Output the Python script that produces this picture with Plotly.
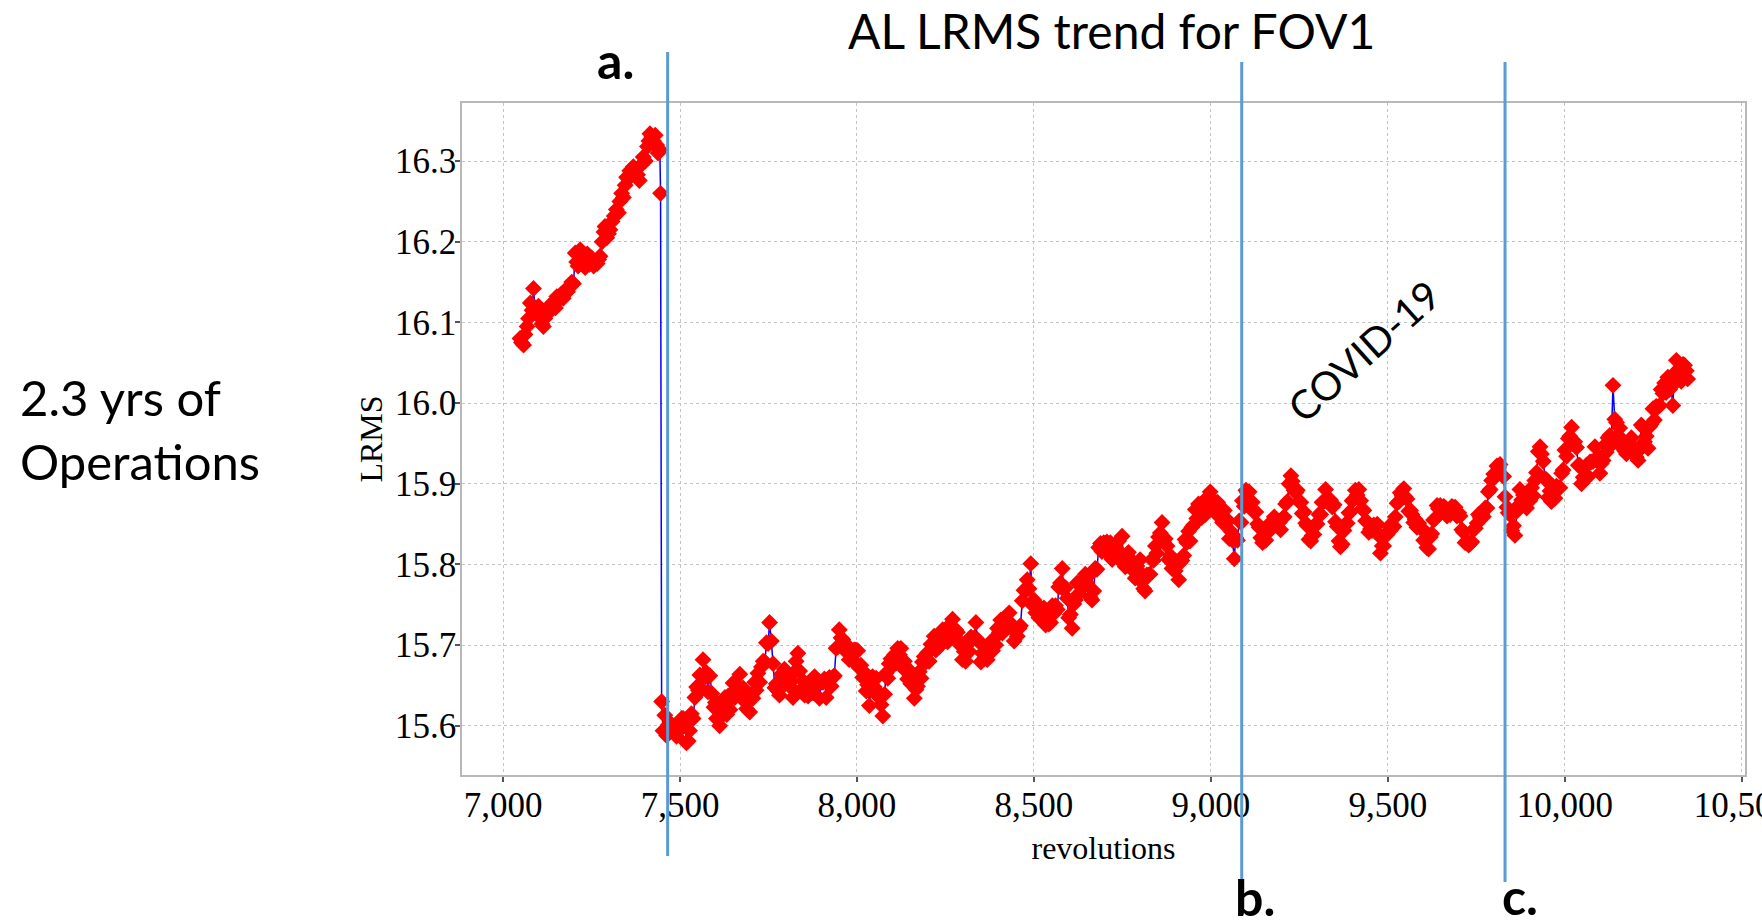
import plotly.graph_objects as go

# ---------------- data ----------------
rev_before = [
    7048, 7052, 7058, 7062, 7068, 7072, 7077, 7082, 7086, 7090,
    7095, 7100, 7105, 7110, 7114, 7118, 7124, 7130, 7136, 7142,
    7148, 7152, 7158, 7164, 7170, 7176, 7182, 7188, 7194, 7199,
    7204, 7208, 7212, 7218, 7222, 7227, 7232, 7238, 7244, 7250,
    7256, 7262, 7266, 7270, 7274, 7280, 7285, 7288, 7293, 7298,
    7302, 7308, 7314, 7320, 7326, 7330, 7335, 7340, 7345, 7349,
    7354, 7358, 7364, 7368, 7374, 7380, 7385, 7390, 7396, 7402,
    7408, 7412, 7415, 7420, 7425, 7430, 7434, 7438, 7443, 7445]
lrms_before = [
    16.080, 16.075, 16.072, 16.085, 16.095, 16.105, 16.124, 16.115, 16.142, 16.118,
    16.110, 16.120, 16.108, 16.098, 16.095, 16.105, 16.112, 16.120, 16.115, 16.125,
    16.118, 16.132, 16.128, 16.135, 16.130, 16.140, 16.138, 16.145, 16.150, 16.148,
    16.186, 16.175, 16.170, 16.190, 16.180, 16.177, 16.168, 16.185, 16.172, 16.180,
    16.170, 16.175, 16.173, 16.178, 16.182, 16.200, 16.212, 16.219, 16.205, 16.210,
    16.215, 16.225, 16.232, 16.240, 16.236, 16.250, 16.260, 16.255, 16.270, 16.280,
    16.278, 16.288, 16.285, 16.293, 16.290, 16.283, 16.276, 16.295, 16.305, 16.300,
    16.318, 16.325, 16.334, 16.330, 16.325, 16.332, 16.320, 16.310, 16.314, 16.260]

rev_2019a = [
    7448, 7452, 7457, 7462, 7467, 7472, 7478, 7484, 7490, 7495,
    7500, 7505, 7509, 7514, 7518, 7523, 7527, 7532, 7537, 7542,
    7547, 7552, 7556, 7561, 7565, 7570, 7574, 7579, 7584, 7590,
    7596, 7600, 7603, 7608, 7612, 7617, 7622, 7627, 7632, 7636,
    7641, 7645, 7650, 7655, 7660, 7664, 7669, 7674, 7678, 7683,
    7688, 7692, 7697, 7701, 7706, 7711, 7715, 7720, 7725, 7730,
    7735, 7740, 7744, 7749, 7753, 7758, 7763, 7768, 7772, 7777,
    7781, 7786, 7790, 7795, 7800, 7805, 7810, 7814, 7819, 7824,
    7828, 7833, 7838, 7842, 7847, 7852, 7857, 7862, 7866, 7871,
    7876, 7880, 7885, 7890, 7894, 7899, 7904, 7908, 7913, 7918,
    7922, 7927, 7932, 7936, 7941, 7946, 7950, 7955, 7960, 7964,
    7969, 7974, 7978, 7983, 7988, 7992, 7997]
lrms_2019a = [
    15.630, 15.594, 15.613, 15.588, 15.601, 15.603, 15.601, 15.592, 15.587, 15.593,
    15.598, 15.609, 15.609, 15.603, 15.579, 15.581, 15.594, 15.615, 15.609, 15.635,
    15.648, 15.644, 15.663, 15.645, 15.682, 15.660, 15.666, 15.642, 15.662, 15.640,
    15.623, 15.629, 15.609, 15.623, 15.600, 15.624, 15.614, 15.635, 15.614, 15.637,
    15.620, 15.634, 15.653, 15.635, 15.646, 15.648, 15.664, 15.637, 15.647, 15.630,
    15.621, 15.634, 15.617, 15.637, 15.634, 15.654, 15.644, 15.665, 15.654, 15.673,
    15.680, 15.679, 15.703, 15.702, 15.728, 15.705, 15.677, 15.647, 15.652, 15.643,
    15.638, 15.664, 15.657, 15.670, 15.659, 15.664, 15.649, 15.655, 15.635, 15.667,
    15.680, 15.690, 15.668, 15.645, 15.656, 15.638, 15.644, 15.637, 15.652, 15.650,
    15.641, 15.661, 15.654, 15.655, 15.634, 15.654, 15.654, 15.658, 15.635, 15.655,
    15.660, 15.649, 15.660, 15.662, 15.696, 15.698, 15.719, 15.709, 15.707, 15.695,
    15.692, 15.699, 15.682, 15.693, 15.681, 15.694, 15.694]

rev_2019b = [
    8002, 8006, 8011, 8016, 8021, 8026, 8030, 8035, 8040, 8044,
    8049, 8054, 8058, 8063, 8068, 8073, 8078, 8082, 8087, 8091,
    8096, 8101, 8106, 8110, 8115, 8120, 8124, 8129, 8134, 8138,
    8143, 8148, 8152, 8157, 8162, 8167, 8171, 8176, 8181, 8185,
    8190, 8195, 8200, 8204, 8209, 8214, 8218, 8223, 8228, 8232,
    8237, 8242, 8246, 8251, 8256, 8260, 8265, 8270, 8275, 8279,
    8284, 8289, 8293, 8298, 8303, 8307, 8312, 8317, 8322, 8326,
    8331, 8336, 8340, 8345, 8350, 8354, 8359, 8364, 8368, 8373,
    8378, 8383, 8387, 8392, 8397, 8402, 8406, 8411, 8416, 8420,
    8425, 8430, 8434, 8439, 8444, 8448, 8453, 8458, 8462, 8467,
    8472, 8476, 8481, 8486, 8491, 8495]
lrms_2019b = [
    15.693, 15.672, 15.675, 15.660, 15.666, 15.643, 15.651, 15.625, 15.652, 15.661,
    15.648, 15.659, 15.637, 15.640, 15.626, 15.612, 15.639, 15.665, 15.659, 15.677,
    15.683, 15.674, 15.688, 15.678, 15.696, 15.688, 15.696, 15.672, 15.680, 15.669,
    15.658, 15.669, 15.652, 15.655, 15.634, 15.645, 15.649, 15.667, 15.659, 15.679,
    15.686, 15.679, 15.691, 15.680, 15.701, 15.696, 15.711, 15.694, 15.702, 15.698,
    15.701, 15.719, 15.709, 15.719, 15.704, 15.724, 15.723, 15.732, 15.712, 15.719,
    15.716, 15.701, 15.703, 15.682, 15.692, 15.680, 15.701, 15.692, 15.710, 15.707,
    15.709, 15.728, 15.707, 15.704, 15.679, 15.690, 15.683, 15.692, 15.682, 15.699,
    15.704, 15.693, 15.708, 15.700, 15.721, 15.716, 15.731, 15.715, 15.728, 15.723,
    15.723, 15.740, 15.722, 15.725, 15.705, 15.718, 15.711, 15.721, 15.724, 15.755,
    15.768, 15.767, 15.781, 15.770, 15.801, 15.750]

rev_2019c = [
    8500, 8505, 8509, 8514, 8519, 8523, 8528, 8533, 8537, 8542,
    8547, 8552, 8556, 8561, 8566, 8570, 8575, 8580, 8584, 8589,
    8594, 8598, 8603, 8608, 8613, 8617, 8622, 8627, 8631, 8636,
    8641, 8645, 8650, 8655, 8659, 8664, 8669, 8673, 8678, 8683,
    8688, 8692, 8697, 8702, 8706, 8711, 8716, 8721, 8725, 8730,
    8735, 8739, 8744, 8749, 8753, 8758, 8763, 8767, 8772, 8777,
    8781, 8786, 8791, 8796, 8800, 8805, 8810, 8814, 8819, 8824,
    8828, 8833, 8838, 8843, 8847, 8852, 8857, 8862, 8866, 8871,
    8876, 8880, 8885, 8890, 8895, 8899, 8904, 8909, 8913, 8918,
    8923, 8927, 8932, 8937, 8941, 8946, 8951, 8956, 8960, 8965,
    8970, 8974, 8979, 8984, 8988, 8993, 8998, 9002, 9005, 9010,
    9014, 9019, 9024, 9028, 9033, 9038, 9042, 9047, 9052, 9056,
    9061, 9066, 9070, 9075, 9080, 9085, 9089, 9094]
lrms_2019c = [
    15.756, 15.740, 15.748, 15.734, 15.746, 15.736, 15.746, 15.725, 15.734, 15.726,
    15.728, 15.749, 15.739, 15.749, 15.744, 15.772, 15.777, 15.795, 15.769, 15.771,
    15.758, 15.734, 15.738, 15.721, 15.751, 15.756, 15.777, 15.764, 15.777, 15.773,
    15.773, 15.788, 15.777, 15.786, 15.759, 15.756, 15.767, 15.795, 15.794, 15.821,
    15.826, 15.816, 15.827, 15.816, 15.828, 15.816, 15.827, 15.806, 15.820, 15.817,
    15.819, 15.829, 15.809, 15.835, 15.801, 15.797, 15.799, 15.815, 15.796, 15.805,
    15.801, 15.783, 15.798, 15.792, 15.806, 15.778, 15.770, 15.767, 15.787, 15.787,
    15.788, 15.806, 15.805, 15.823, 15.814, 15.834, 15.839, 15.852, 15.829, 15.832,
    15.823, 15.806, 15.811, 15.795, 15.804, 15.792, 15.803, 15.781, 15.802, 15.805,
    15.811, 15.831, 15.827, 15.841, 15.829, 15.846, 15.849, 15.868, 15.857, 15.875,
    15.874, 15.858, 15.871, 15.862, 15.882, 15.876, 15.890, 15.872, 15.881, 15.869,
    15.863, 15.877, 15.863, 15.869, 15.852, 15.867, 15.851, 15.855, 15.832, 15.841,
    15.830, 15.807, 15.833, 15.830, 15.854, 15.852, 15.879, 15.872]

rev_covid = [
    9099, 9103, 9108, 9113, 9117, 9122, 9127, 9132, 9136, 9141,
    9146, 9150, 9155, 9160, 9164, 9169, 9174, 9179, 9183, 9188,
    9193, 9197, 9202, 9207, 9211, 9216, 9221, 9226, 9230, 9235,
    9240, 9244, 9249, 9254, 9258, 9263, 9268, 9272, 9277, 9282,
    9286, 9291, 9296, 9300, 9305, 9310, 9314, 9319, 9324, 9329,
    9333, 9338, 9343, 9348, 9352, 9357, 9362, 9366, 9371, 9376,
    9380, 9385, 9390, 9394, 9399, 9404, 9408, 9413, 9418, 9423,
    9427, 9432, 9437, 9441, 9446, 9451, 9455, 9460, 9465, 9470,
    9474, 9479, 9484, 9488, 9493, 9498, 9503, 9507, 9512, 9517,
    9521, 9526, 9531, 9535, 9540, 9545, 9549, 9554, 9559, 9564,
    9568, 9573, 9577, 9582, 9587, 9592, 9596, 9601, 9606, 9610,
    9615, 9620, 9624, 9629, 9634, 9639, 9643, 9648, 9653, 9658,
    9662, 9667, 9672, 9676, 9681, 9686, 9690, 9695, 9700]
lrms_covid = [
    15.892, 15.889, 15.890, 15.878, 15.877, 15.865, 15.865, 15.850, 15.846, 15.833,
    15.827, 15.829, 15.830, 15.843, 15.841, 15.852, 15.851, 15.859, 15.849, 15.854,
    15.852, 15.843, 15.857, 15.859, 15.875, 15.878, 15.900, 15.910, 15.903, 15.892,
    15.889, 15.892, 15.878, 15.877, 15.863, 15.865, 15.851, 15.848, 15.831, 15.829,
    15.836, 15.837, 15.850, 15.850, 15.862, 15.862, 15.877, 15.878, 15.893, 15.882,
    15.877, 15.880, 15.871, 15.874, 15.853, 15.847, 15.829, 15.822, 15.825, 15.842,
    15.850, 15.851, 15.864, 15.865, 15.879, 15.881, 15.892, 15.886, 15.893, 15.879,
    15.869, 15.867, 15.854, 15.853, 15.840, 15.844, 15.842, 15.849, 15.842, 15.850,
    15.836, 15.814, 15.823, 15.823, 15.837, 15.837, 15.847, 15.842, 15.849, 15.847,
    15.859, 15.876, 15.878, 15.889, 15.885, 15.894, 15.884, 15.881, 15.866, 15.867,
    15.862, 15.852, 15.856, 15.846, 15.851, 15.845, 15.845, 15.830, 15.829, 15.821,
    15.819, 15.834, 15.838, 15.855, 15.857, 15.873, 15.869, 15.873, 15.868, 15.872,
    15.870, 15.860, 15.867, 15.862, 15.872, 15.870, 15.871, 15.860, 15.864]

rev_late = [
    9704, 9709, 9714, 9718, 9723, 9728, 9733, 9737, 9742, 9747,
    9752, 9756, 9761, 9765, 9770, 9775, 9780, 9784, 9789, 9793,
    9799, 9803, 9808, 9813, 9817, 9822, 9827, 9831, 9836, 9840,
    9845, 9850, 9855, 9859, 9864, 9869, 9873, 9878, 9883, 9887,
    9892, 9897, 9901, 9906, 9911, 9915, 9920, 9925, 9930, 9934,
    9939, 9944, 9948, 9953, 9958, 9962, 9967, 9972, 9976, 9981,
    9986, 9991, 9995, 10000, 10005, 10010, 10014, 10019, 10024, 10028,
    10033, 10038, 10042, 10047, 10052, 10057, 10061, 10066, 10071, 10075,
    10080, 10085, 10089, 10094, 10099, 10103, 10108, 10113, 10117, 10122,
    10127, 10131, 10136, 10141, 10146, 10150, 10155, 10160, 10164, 10169,
    10174, 10178, 10183, 10188, 10192, 10197, 10202, 10207, 10211, 10216,
    10221, 10225, 10230, 10235, 10240, 10244, 10249, 10253, 10258, 10263,
    10268, 10272, 10277, 10282, 10286, 10291, 10296, 10300, 10305, 10310,
    10315, 10320, 10324, 10329, 10334, 10338, 10343, 10347]
lrms_late = [
    15.860, 15.843, 15.840, 15.827, 15.829, 15.824, 15.826, 15.828, 15.843, 15.845,
    15.851, 15.862, 15.858, 15.862, 15.859, 15.870, 15.870, 15.890, 15.893, 15.904,
    15.912, 15.912, 15.922, 15.920, 15.924, 15.911, 15.909, 15.884, 15.871, 15.864,
    15.862, 15.842, 15.848, 15.836, 15.866, 15.873, 15.893, 15.880, 15.886, 15.875,
    15.870, 15.884, 15.879, 15.895, 15.885, 15.904, 15.914, 15.940, 15.946, 15.937,
    15.928, 15.906, 15.905, 15.883, 15.891, 15.878, 15.896, 15.882, 15.897, 15.895,
    15.895, 15.913, 15.917, 15.942, 15.934, 15.956, 15.959, 15.970, 15.949, 15.952,
    15.945, 15.923, 15.923, 15.900, 15.908, 15.906, 15.923, 15.909, 15.927, 15.927,
    15.928, 15.946, 15.929, 15.933, 15.913, 15.925, 15.929, 15.948, 15.939, 15.957,
    15.960, 15.948, 16.022, 15.980, 15.976, 15.960, 15.969, 15.946, 15.952, 15.941,
    15.937, 15.951, 15.945, 15.957, 15.939, 15.944, 15.933, 15.929, 15.942, 15.973,
    15.970, 15.952, 15.959, 15.944, 15.971, 15.974, 15.993, 15.979, 15.996, 15.995,
    15.997, 16.017, 16.012, 16.025, 16.013, 16.032, 16.017, 16.020, 15.997, 16.037,
    16.053, 16.039, 16.043, 16.027, 16.048, 16.047, 16.040, 16.030]

x_ticks = [7000, 7500, 8000, 8500, 9000, 9500, 10000, 10500]
x_tick_labels = ["7,000", "7,500", "8,000", "8,500", "9,000", "9,500", "10,000", "10,500"]
y_ticks = [15.6, 15.7, 15.8, 15.9, 16.0, 16.1, 16.2, 16.3]
y_tick_labels = ["15.6", "15.7", "15.8", "15.9", "16.0", "16.1", "16.2", "16.3"]

event_labels = ["a.", "b.", "c."]
event_revs = [7465, 9087, 9831]

X_RANGE = [6884, 10509]
Y_RANGE = [15.539, 16.372]

rev = rev_before + rev_2019a + rev_2019b + rev_2019c + rev_covid + rev_late
lrms = lrms_before + lrms_2019a + lrms_2019b + lrms_2019c + lrms_covid + lrms_late

# ---------------- figure ----------------
W, H = 1762, 923
ML, MR, MT, MB = 462, 17, 103, 148
PW, PH = W - ML - MR, H - MT - MB


def pxx(px):
    return (px - ML) / PW


def pxy(py):
    return (H - MB - py) / PH


def rev2paper(r):
    return (r - X_RANGE[0]) / (X_RANGE[1] - X_RANGE[0])


fig = go.Figure()
fig.add_trace(go.Scatter(
    x=rev, y=lrms, mode="lines+markers",
    line=dict(color="#0000ff", width=1.5),
    marker=dict(symbol="diamond", color="#ff0000", size=13, line=dict(width=0)),
    showlegend=False, hoverinfo="x+y"))

serif = "Liberation Serif, Times New Roman, serif"
sans = "Lato, Open Sans, sans-serif"

axis_common = dict(
    showgrid=True, gridcolor="#c4c4c4", griddash="dot", gridwidth=1,
    showline=True, mirror=True, linecolor="#b8b8b8", linewidth=1.5,
    ticks="outside", ticklen=5, tickwidth=1.5, tickcolor="#555555",
    zeroline=False, tickfont=dict(family=serif, size=35, color="#000000"),
)

fig.update_layout(
    width=W, height=H,
    margin=dict(l=ML, r=MR, t=MT, b=MB, autoexpand=False),
    paper_bgcolor="#ffffff", plot_bgcolor="#ffffff",
    xaxis=dict(range=X_RANGE, tickmode="array", tickvals=x_ticks, ticktext=x_tick_labels,
               ticklabeloverflow="allow", ticklabelstandoff=-7,
               title=dict(text="revolutions", font=dict(family=serif, size=32, color="#000000"),
                          standoff=13),
               **axis_common),
    yaxis=dict(range=Y_RANGE, tickmode="array", tickvals=y_ticks, ticktext=y_tick_labels,
               ticklabelstandoff=-8,
               title=dict(text="LRMS", font=dict(family=serif, size=32, color="#000000"),
                          standoff=3),
               **axis_common),
)

# vertical event markers
ev_tops = [52, 62, 62]
ev_bottoms = [856, 879, 882]
for r, t, b in zip(event_revs, ev_tops, ev_bottoms):
    fig.add_shape(type="line", xref="paper", yref="paper",
                  x0=rev2paper(r), x1=rev2paper(r), y0=pxy(b), y1=pxy(t),
                  line=dict(color="#5b9bd5", width=3), layer="above")

# event letters
ev_label_pos = [(615, 60), (1255, 897), (1520, 896)]
for txt, (px, py) in zip(event_labels, ev_label_pos):
    fig.add_annotation(text=txt, xref="paper", yref="paper", x=pxx(px), y=pxy(py),
                       xanchor="center", yanchor="middle", showarrow=False,
                       font=dict(family=sans, size=50, color="#000000", weight="bold"))

# title
fig.add_annotation(text="AL LRMS trend for FOV1", xref="paper", yref="paper",
                   x=pxx(1111), y=pxy(31), xanchor="center", yanchor="middle",
                   showarrow=False, font=dict(family=sans, size=48, color="#000000"))

# left note
fig.add_annotation(text="2.3 yrs of<br>Operations", xref="paper", yref="paper",
                   x=pxx(18), y=pxy(429), xanchor="left", yanchor="middle", align="left",
                   showarrow=False, font=dict(family=sans, size=49, color="#000000"))

# COVID-19 label
fig.add_annotation(text="COVID-19", xref="x", yref="y", x=9432, y=16.065,
                   xanchor="center", yanchor="middle", textangle=-42,
                   showarrow=False, font=dict(family=sans, size=40, color="#000000"))

fig.write_html("out.html")
